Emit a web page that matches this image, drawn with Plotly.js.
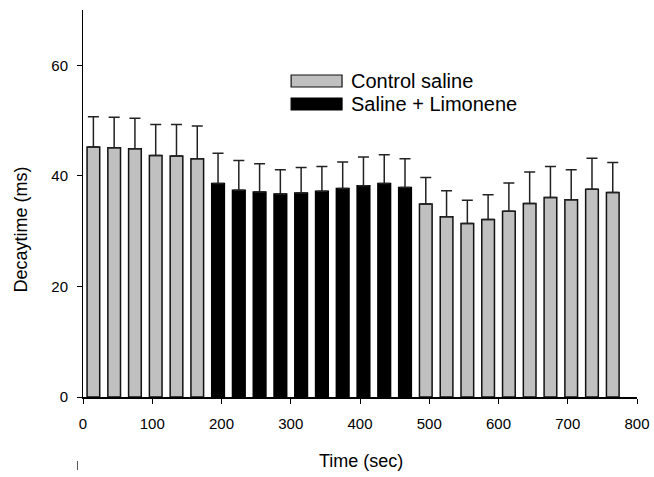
<!DOCTYPE html>
<html>
<head>
<meta charset="utf-8">
<script src="https://cdn.plot.ly/plotly-3.0.1.min.js"></script>
<style>
html,body{margin:0;padding:0;background:#fff;}
#chart{width:654px;height:477px;}
</style>
</head>
<body>
<div id="chart"></div>
<script>
// Time bins (sec) and decay time (ms), with upward SEM error
var timeControl = [15, 45, 75, 105, 135, 165, 495, 525, 555, 585, 615, 645, 675, 705, 735, 765];
var decayControl = [45.2, 45.1, 44.9, 43.7, 43.6, 43.1, 34.9, 32.6, 31.4, 32.1, 33.6, 35.0, 36.1, 35.7, 37.6, 37.0];
var errControl = [5.5, 5.5, 5.5, 5.6, 5.7, 5.9, 4.8, 4.7, 4.2, 4.5, 5.1, 5.7, 5.6, 5.4, 5.6, 5.4];

var timeLimonene = [195, 225, 255, 285, 315, 345, 375, 405, 435, 465];
var decayLimonene = [38.6, 37.4, 37.1, 36.7, 36.9, 37.2, 37.7, 38.2, 38.6, 37.9];
var errLimonene = [5.5, 5.4, 5.1, 4.4, 4.6, 4.5, 4.8, 5.2, 5.2, 5.2];

var seriesNames = ["Control saline", "Saline + Limonene"];
var xTicks = [0, 100, 200, 300, 400, 500, 600, 700, 800];
var yTicks = [0, 20, 40, 60];
var xTitle = "Time (sec)";
var yTitle = "Decaytime (ms)";

function zeros(n){ var a=[]; for(var i=0;i<n;i++) a.push(0); return a; }

var traces = [
  {
    type: "bar", name: seriesNames[0], x: timeControl, y: decayControl, width: 18.3,
    marker: {color: "#c0c0c0", line: {color: "#111", width: 1.5}},
    error_y: {type: "data", symmetric: false, array: errControl, arrayminus: zeros(errControl.length),
              color: "#222", thickness: 1.5, width: 5.5},
    showlegend: false
  },
  {
    type: "bar", name: seriesNames[1], x: timeLimonene, y: decayLimonene, width: 18.3,
    marker: {color: "#000", line: {color: "#000", width: 1.5}},
    error_y: {type: "data", symmetric: false, array: errLimonene, arrayminus: zeros(errLimonene.length),
              color: "#222", thickness: 1.5, width: 5.5},
    showlegend: false
  }
];

var px = function(p){ return (p - 82.5) / 555; };
var py = function(p){ return (397 - p) / 387; };

var layout = {
  width: 654, height: 477,
  margin: {l: 82.5, r: 16.5, t: 10, b: 80},
  paper_bgcolor: "#fff", plot_bgcolor: "#fff",
  barmode: "overlay",
  font: {family: "Liberation Sans, Arial, sans-serif", color: "#000", size: 15},
  xaxis: {
    range: [0, 800], tickvals: xTicks, ticktext: xTicks.map(String),
    showgrid: false, zeroline: false, showline: true, linecolor: "#000", linewidth: 1.5,
    ticks: "outside", ticklen: 5, tickcolor: "#000", tickwidth: 1,
    tickfont: {size: 15}, ticklabelstandoff: 7
  },
  yaxis: {
    range: [0, 70], tickvals: yTicks, ticktext: yTicks.map(String),
    showgrid: false, zeroline: false, showline: true, linecolor: "#000", linewidth: 1,
    ticks: "outside", ticklen: 5, tickcolor: "#000", tickwidth: 1,
    tickfont: {size: 15}, ticklabelstandoff: 6
  },
  shapes: [
    {type: "rect", xref: "paper", yref: "paper", x0: px(291), x1: px(342), y0: py(87), y1: py(75),
     fillcolor: "#c0c0c0", line: {color: "#111", width: 1.2}},
    {type: "rect", xref: "paper", yref: "paper", x0: px(291), x1: px(342), y0: py(110), y1: py(98),
     fillcolor: "#000", line: {color: "#000", width: 1.2}},
    {type: "line", xref: "paper", yref: "paper", x0: px(77), x1: px(77), y0: py(461), y1: py(470),
     line: {color: "#555", width: 1}}
  ],
  annotations: [
    {xref: "paper", yref: "paper", x: px(349), y: py(81), xanchor: "left", yanchor: "middle",
     text: seriesNames[0], showarrow: false, font: {size: 20}},
    {xref: "paper", yref: "paper", x: px(349), y: py(104), xanchor: "left", yanchor: "middle",
     text: seriesNames[1], showarrow: false, font: {size: 20}},
    {xref: "paper", yref: "paper", x: px(361.5), y: py(461), xanchor: "center", yanchor: "middle",
     text: xTitle, showarrow: false, font: {size: 18}},
    {xref: "paper", yref: "paper", x: px(20), y: py(230), xanchor: "center", yanchor: "middle",
     text: yTitle, textangle: -90, showarrow: false, font: {size: 18}}
  ]
};

Plotly.newPlot("chart", traces, layout, {displayModeBar: false, staticPlot: true});
</script>
</body>
</html>
